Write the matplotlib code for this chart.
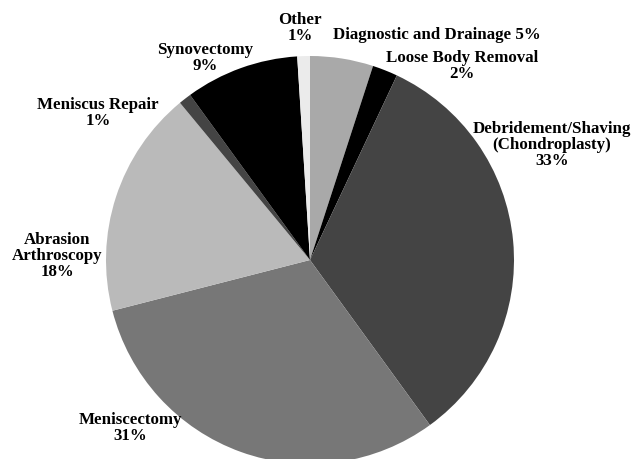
import matplotlib.pyplot as plt

# procedures, clockwise from 12 o'clock
procedures = ["Diagnostic and Drainage", "Loose Body Removal",
              "Debridement/Shaving\n(Chondroplasty)", "Meniscectomy",
              "Abrasion\nArthroscopy", "Meniscus Repair", "Synovectomy",
              "Other"]
shares = [5, 2, 33, 31, 18, 1, 9, 1]
greys = ["#a9a9a9", "#000000", "#444444", "#777777",
         "#bababa", "#444444", "#000000", "#ebebeb"]

# label centres in pixels of the 644x459 image
label_px = [(437, 35), (462, 66), (552, 145), (130, 428),
            (57, 256), (98, 113), (205, 58), (300, 28)]


def main():
    '''pie chart of arthroscopy procedures'''
    plt.rcParams['font.family'] = ['Liberation Serif', 'DejaVu Serif']
    fig = plt.figure(figsize=(6.44, 4.59), dpi=100)
    ax = fig.add_axes([0, 0, 1, 1])
    ax.pie(shares, colors=greys, startangle=90, counterclock=False,
           radius=1.0, wedgeprops={'linewidth': 0})
    cx, cy, r = 310, 260, 204
    ax.set_xlim(-cx / r, (644 - cx) / r)
    ax.set_ylim(-(459 - cy) / r, cy / r)
    ax.set_aspect('auto')
    ax.axis('off')
    for name, val, (px, py) in zip(procedures, shares, label_px):
        if name.startswith("Diagnostic"):
            text = f"{name} {val}%"
        else:
            text = f"{name}\n{val}%"
        ax.text((px - cx) / r, (cy - py) / r, text, ha='center',
                va='center', fontsize=12.2, fontweight='bold',
                linespacing=1.0)
    fig.savefig("out.png", dpi=100)


if __name__ == '__main__':
    main()
